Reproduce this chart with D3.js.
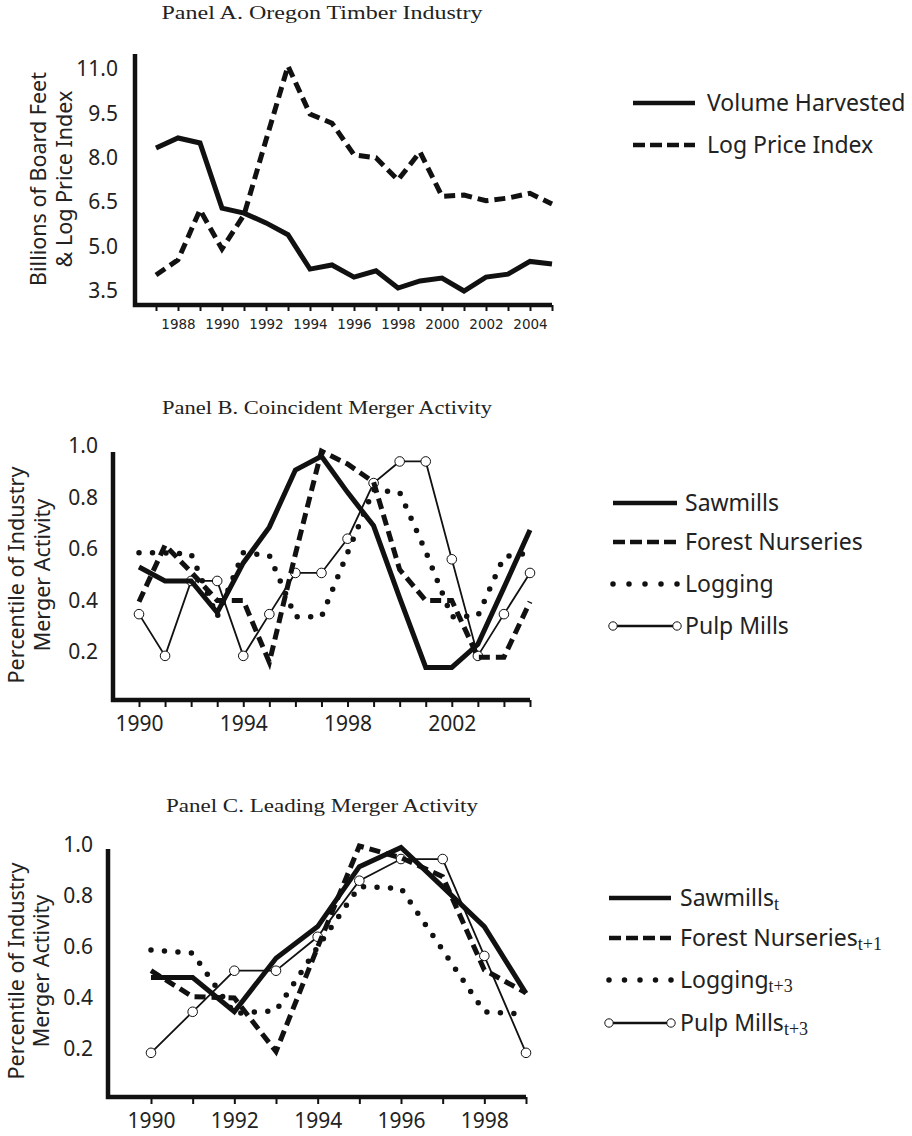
<!DOCTYPE html>
<html>
<head>
<meta charset="utf-8">
<script src="https://cdn.jsdelivr.net/npm/d3@7"></script>
<style>
  body { margin: 0; background: #fff; }
  svg text { fill: #222; }
</style>
</head>
<body>
<svg id="chart" width="912" height="1136"></svg>
<script>
// ---- Panel A: Oregon timber industry ----
const yearsA = [1987, 1988, 1989, 1990, 1991, 1992, 1993, 1994, 1995, 1996,
                1997, 1998, 1999, 2000, 2001, 2002, 2003, 2004, 2005];
const volumeHarvested = [8.33, 8.67, 8.5, 6.3, 6.13, 5.8, 5.4, 4.24, 4.38, 3.97,
                         4.18, 3.6, 3.84, 3.94, 3.5, 3.97, 4.07, 4.5, 4.41];
const logPriceIndex = [4.04, 4.55, 6.24, 4.92, 6.07, 8.6, 11.1, 9.48, 9.17, 8.1,
                       8.0, 7.25, 8.2, 6.7, 6.74, 6.55, 6.64, 6.8, 6.44];
const yTicksA = [3.5, 5.0, 6.5, 8.0, 9.5, 11.0];
const xLabelsA = [1988, 1990, 1992, 1994, 1996, 1998, 2000, 2002, 2004];

// ---- Panel B: coincident merger activity ----
const yearsB = [1990, 1991, 1992, 1993, 1994, 1995, 1996, 1997,
                1998, 1999, 2000, 2001, 2002, 2003, 2004, 2005];
const sawmillsB = [0.53, 0.476, 0.476, 0.353, 0.546, 0.685, 0.907, 0.96,
                   0.82, 0.69, 0.41, 0.14, 0.14, 0.23, 0.45, 0.674];
const nurseriesB = [0.395, 0.615, 0.51, 0.40, 0.40, 0.16, 0.58, 0.98,
                    0.93, 0.86, 0.52, 0.40, 0.40, 0.18, 0.18, 0.395];
const loggingB = [0.585, 0.585, 0.58, 0.337, 0.585, 0.575, 0.337, 0.337,
                  0.585, 0.83, 0.82, 0.59, 0.337, 0.34, 0.57, 0.585];
const pulpB = [0.347, 0.185, 0.476, 0.476, 0.185, 0.347, 0.507, 0.507,
               0.64, 0.856, 0.94, 0.94, 0.56, 0.185, 0.347, 0.507];
const xLabelsB = [1990, 1994, 1998, 2002];

// ---- Panel C: leading merger activity ----
const yearsC = [1990, 1991, 1992, 1993, 1994, 1995, 1996, 1997, 1998, 1999];
const sawmillsC = [0.48, 0.48, 0.346, 0.556, 0.68, 0.915, 0.99, 0.836, 0.68, 0.418];
const nurseriesC = [0.507, 0.405, 0.40, 0.19, 0.60, 0.996, 0.95, 0.876, 0.51, 0.42];
const loggingC = [0.588, 0.576, 0.34, 0.35, 0.6, 0.837, 0.83, 0.588, 0.346, 0.337];
const pulpC = [0.185, 0.346, 0.507, 0.507, 0.64, 0.86, 0.945, 0.945, 0.565, 0.185];
const xLabelsC = [1990, 1992, 1994, 1996, 1998];

const yTicksPct = [0.2, 0.4, 0.6, 0.8, 1.0];

const SANS = "'Noto Sans', 'DejaVu Sans', sans-serif";
const SMALL_SANS = "'DejaVu Sans', sans-serif";
const SERIF = "'Liberation Serif', 'DejaVu Serif', serif";
const INK = "#111";

// line looks
const looks = {
  solid:  { width: 5, dash: null },
  dashed: { width: 5, dash: "11,6", legendDash: () => "12,5" },
  dotted: { width: 5.5, dash: "0,13.5", cap: "round",
            legendDash: len => `0,${len / 4}` },
  pulp:   { width: 1.8, dash: null, circles: true }
};

const svg = d3.select('#chart');

function drawPanel(cfg) {
  const g = svg.append('g');

  const x = d3.scaleLinear().domain(cfg.xDomain).range(cfg.xRange);
  const y = d3.scaleLinear().domain(cfg.yDomain).range(cfg.yRange);

  // title
  g.append('text')
    .attr('x', cfg.titleX)
    .attr('y', cfg.titleY)
    .attr('text-anchor', 'middle')
    .attr('textLength', cfg.titleLen)
    .attr('lengthAdjust', 'spacingAndGlyphs')
    .style('font-family', SERIF)
    .style('font-size', '18.5px')
    .text(cfg.title);

  // x ticks + labels
  const xAxis = g.append('g')
    .attr('transform', `translate(0,${cfg.frame.bottom})`)
    .call(d3.axisBottom(x)
      .tickValues(cfg.years)
      .tickSize(cfg.tickSize)
      .tickPadding(cfg.xPad)
      .tickFormat(d => cfg.xLabels.includes(d) ? d : ''));
  xAxis.select('.domain').remove();
  xAxis.selectAll('.tick line').attr('stroke', INK).attr('stroke-width', 2);
  xAxis.selectAll('.tick text')
    .style('font-family', cfg.xFontFamily)
    .style('font-size', cfg.xFont + 'px')
    .attr('fill', '#222');

  // y labels (no tick marks)
  const yAxis = g.append('g')
    .attr('transform', `translate(${cfg.frame.left},0)`)
    .call(d3.axisLeft(y)
      .tickValues(cfg.yTicks)
      .tickSize(0)
      .tickPadding(cfg.yPad)
      .tickFormat(d3.format('.1f')));
  yAxis.select('.domain').remove();
  yAxis.selectAll('.tick text')
    .style('font-family', SANS)
    .style('font-size', '21px')
    .attr('fill', '#222');

  // frame (thick L)
  g.append('path')
    .attr('d', `M${cfg.frame.left},${cfg.frame.top}V${cfg.frame.bottom}H${cfg.frame.right}`)
    .attr('fill', 'none')
    .attr('stroke', INK)
    .attr('stroke-width', 4.5)
    .attr('stroke-linejoin', 'miter');

  // y axis title (two rotated lines)
  cfg.ylabel.forEach((line, i) => {
    g.append('text')
      .attr('transform', `translate(${cfg.ylabelX[i]},${cfg.ylabelY}) rotate(-90)`)
      .attr('text-anchor', 'middle')
      .style('font-family', SANS)
      .style('font-size', '21.5px')
      .text(line);
  });

  const line = d3.line()
    .x(d => x(d[0]))
    .y(d => y(d[1]));

  // series, drawn in given order
  cfg.drawOrder.forEach(idx => {
    const s = cfg.series[idx];
    const look = looks[s.look];
    const pts = d3.zip(cfg.years, s.values);
    g.append('path')
      .datum(pts)
      .attr('d', line)
      .attr('fill', 'none')
      .attr('stroke', INK)
      .attr('stroke-width', look.width)
      .attr('stroke-dasharray', look.dash)
      .attr('stroke-linecap', look.cap || 'butt')
      .attr('stroke-linejoin', 'miter');
    if (look.circles) {
      g.selectAll(null)
        .data(pts)
        .enter()
        .append('circle')
        .attr('cx', d => x(d[0]))
        .attr('cy', d => y(d[1]))
        .attr('r', 4.8)
        .attr('fill', '#fff')
        .attr('stroke', INK)
        .attr('stroke-width', 1);
    }
  });

  // legend
  const lg = cfg.legend;
  const len = lg.x2 - lg.x1;
  cfg.series.forEach((s, i) => {
    const look = looks[s.look];
    const ly = lg.rows[i];
    g.append('line')
      .attr('x1', lg.x1).attr('x2', lg.x2 + (look.cap ? 0.5 : 0))
      .attr('y1', ly).attr('y2', ly)
      .attr('stroke', INK)
      .attr('stroke-width', look.circles ? 2.4 : (look.cap ? 5.5 : 4.5))
      .attr('stroke-dasharray', look.legendDash ? look.legendDash(len) : null)
      .attr('stroke-linecap', look.cap || 'butt');
    if (look.circles) {
      [lg.x1, lg.x2].forEach(cx => {
        g.append('circle')
          .attr('cx', cx).attr('cy', ly).attr('r', 4.2)
          .attr('fill', '#fff').attr('stroke', INK).attr('stroke-width', 1);
      });
    }
    const t = g.append('text')
      .attr('x', lg.textX)
      .attr('y', ly + 7.5)
      .style('font-family', SANS)
      .style('font-size', '23px')
      .text(s.name);
    if (s.sub) {
      t.append('tspan')
        .attr('dy', 4.5)
        .style('font-family', SERIF)
        .style('font-size', '18px')
        .text(s.sub);
    }
  });
}

drawPanel({
  title: 'Panel A. Oregon Timber Industry',
  titleX: 322, titleY: 19, titleLen: 321,
  years: yearsA,
  xDomain: [1987, 2005], xRange: [156, 552],
  yDomain: [3.5, 11], yRange: [291, 69],
  frame: { left: 135, top: 54, bottom: 305, right: 552 },
  yTicks: yTicksA, xLabels: xLabelsA,
  tickSize: 6, xPad: 8, xFont: 13.5, xFontFamily: SMALL_SANS, yPad: 17,
  ylabel: ['Billions of Board Feet', '& Log Price Index'],
  ylabelX: [46, 72], ylabelY: 179,
  series: [
    { name: 'Volume Harvested', values: volumeHarvested, look: 'solid' },
    { name: 'Log Price Index', values: logPriceIndex, look: 'dashed' }
  ],
  drawOrder: [0, 1],
  legend: { x1: 633, x2: 695, textX: 707, rows: [103, 145] }
});

drawPanel({
  title: 'Panel B. Coincident Merger Activity',
  titleX: 327, titleY: 414, titleLen: 330,
  years: yearsB,
  xDomain: [1990, 2005], xRange: [139, 530],
  yDomain: [0.2, 1.0], yRange: [652, 446],
  frame: { left: 113, top: 452, bottom: 700, right: 530 },
  yTicks: yTicksPct, xLabels: xLabelsB,
  tickSize: 7, xPad: 9.5, xFont: 21, xFontFamily: SANS, yPad: 15,
  ylabel: ['Percentile of Industry', 'Merger Activity'],
  ylabelX: [24, 50], ylabelY: 575,
  series: [
    { name: 'Sawmills', values: sawmillsB, look: 'solid' },
    { name: 'Forest Nurseries', values: nurseriesB, look: 'dashed' },
    { name: 'Logging', values: loggingB, look: 'dotted' },
    { name: 'Pulp Mills', values: pulpB, look: 'pulp' }
  ],
  drawOrder: [3, 2, 1, 0],
  legend: { x1: 613, x2: 677, textX: 685, rows: [503, 542, 584, 626] }
});

drawPanel({
  title: 'Panel C. Leading Merger Activity',
  titleX: 322, titleY: 812, titleLen: 312,
  years: yearsC,
  xDomain: [1990, 1999], xRange: [151, 526],
  yDomain: [0.2, 1.0], yRange: [1049, 845],
  frame: { left: 108, top: 849, bottom: 1097, right: 526 },
  yTicks: yTicksPct, xLabels: xLabelsC,
  tickSize: 7, xPad: 9.5, xFont: 21, xFontFamily: SANS, yPad: 15,
  ylabel: ['Percentile of Industry', 'Merger Activity'],
  ylabelX: [24, 49], ylabelY: 971,
  series: [
    { name: 'Sawmills', sub: 't', values: sawmillsC, look: 'solid' },
    { name: 'Forest Nurseries', sub: 't+1', values: nurseriesC, look: 'dashed' },
    { name: 'Logging', sub: 't+3', values: loggingC, look: 'dotted' },
    { name: 'Pulp Mills', sub: 't+3', values: pulpC, look: 'pulp' }
  ],
  drawOrder: [3, 2, 1, 0],
  legend: { x1: 609, x2: 671, textX: 680, rows: [898, 938, 980, 1023] }
});
</script>
</body>
</html>
